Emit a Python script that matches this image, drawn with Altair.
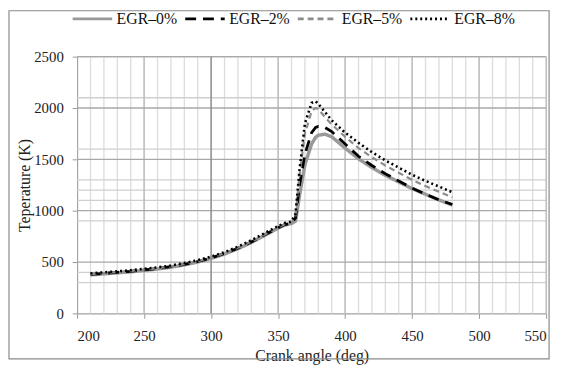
import altair as alt
import pandas as pd

# ---- data ----
series_names = ["EGR\u20130%", "EGR\u20132%", "EGR\u20135%", "EGR\u20138%"]

angle = [210, 220, 230, 240, 250, 260, 270, 280, 290, 300, 310, 320, 330, 340, 350,
         355, 360, 363, 366, 370, 375, 378, 380, 385, 390, 400, 410, 420, 430, 440,
         450, 460, 470, 480]

egr0 = [375, 385, 395, 405, 418, 432, 450, 472, 500, 535, 578, 630, 690, 760, 830,
        860, 875, 900, 1150, 1450, 1650, 1715, 1735, 1745, 1720, 1610, 1505, 1420,
        1345, 1280, 1215, 1160, 1105, 1055]
egr2 = [380, 390, 400, 410, 423, 437, 455, 477, 505, 540, 583, 635, 695, 765, 835,
        865, 880, 930, 1250, 1550, 1760, 1810, 1820, 1810, 1770, 1650, 1530, 1440,
        1360, 1290, 1220, 1160, 1105, 1060]
egr5 = [382, 392, 402, 412, 426, 440, 458, 480, 508, 543, 586, 638, 698, 768, 838,
        868, 885, 950, 1350, 1750, 1970, 2000, 1990, 1910, 1840, 1720, 1610, 1520,
        1440, 1370, 1300, 1240, 1185, 1130]
egr8 = [390, 400, 410, 420, 434, 448, 466, 490, 518, 553, 596, 650, 712, 782, 850,
        880, 895, 970, 1400, 1850, 2050, 2065, 2040, 1960, 1880, 1760, 1660, 1570,
        1490, 1420, 1350, 1290, 1235, 1180]

x_ticks = [200, 250, 300, 350, 400, 450, 500, 550]
y_ticks = [0, 500, 1000, 1500, 2000, 2500]
v_minor = list(range(210, 550, 10))
v_major = [250, 350, 400, 450, 500, 550]
v_strong = [300]
h_minor = [300, 400, 900, 1100, 1200, 1300, 1600, 2100]
h_major = [500, 1000, 1500, 2000, 2500]

colors = ["#999999", "#000000", "#8c8c8c", "#000000"]
dashes = [[1, 0], [11, 7], [6, 4], [2, 3]]
widths = [3.5, 2.8, 2.2, 2.6]

rows = []
for name, vals in zip(series_names, [egr0, egr2, egr5, egr8]):
    for a, v in zip(angle, vals):
        rows.append({"angle": a, "T": v, "Series": name})
df = pd.DataFrame(rows)

serif = "Liberation Serif"

xs = alt.Scale(domain=[200, 550], nice=False)
ys = alt.Scale(domain=[0, 2500], nice=False)

def vrules(vals, color, w):
    return alt.Chart(pd.DataFrame({"x": vals})).mark_rule(color=color, strokeWidth=w).encode(
        x=alt.X("x:Q", scale=xs))

def hrules(vals, color, w):
    return alt.Chart(pd.DataFrame({"y": vals})).mark_rule(color=color, strokeWidth=w).encode(
        y=alt.Y("y:Q", scale=ys))

grid = alt.layer(
    vrules(v_minor, "#dcdcdc", 1.3),
    hrules(h_minor, "#cfcfcf", 1.3),
    vrules(v_major, "#b8b8b8", 1.3),
    hrules(h_major, "#a8a8a8", 1.3),
    vrules(v_strong, "#909090", 1.5),
)

color_enc = alt.Color("Series:N", scale=alt.Scale(domain=series_names, range=colors),
                      legend=alt.Legend(title=None, orient="none", direction="horizontal",
                                        legendX=-6, legendY=-60,
                                        symbolType="stroke", symbolSize=1600,
                                        symbolStrokeWidth=2.8,
                                        labelFont=serif, labelFontSize=16,
                                        labelColor="#111", labelOffset=3,
                                        columnPadding=1))
dash_enc = alt.StrokeDash("Series:N", scale=alt.Scale(domain=series_names, range=dashes))

lines = []
for name, w in zip(series_names, widths):
    lines.append(
        alt.Chart(df).transform_filter(alt.datum.Series == name)
        .mark_line(strokeWidth=w)
        .encode(
            x=alt.X("angle:Q", scale=xs,
                    axis=alt.Axis(values=x_ticks, title="Crank angle (deg)", grid=False,
                                  format="d",
                                  labelFont=serif, labelFontSize=15, labelColor="#222",
                                  titleFont=serif, titleFontSize=16, titleFontWeight="normal",
                                  titleColor="#222", domainColor="#999", tickColor="#999",
                                  tickSize=5, labelPadding=10, titlePadding=5)),
            y=alt.Y("T:Q", scale=ys,
                    axis=alt.Axis(values=y_ticks, title="Teperature (K)", grid=False,
                                  format="d",
                                  labelFont=serif, labelFontSize=15, labelColor="#222",
                                  titleFont=serif, titleFontSize=16, titleFontWeight="normal",
                                  titleColor="#222", domainColor="#999", tickColor="#999",
                                  tickSize=5, labelPadding=9, titlePadding=1)),
            color=color_enc,
            strokeDash=dash_enc,
        )
    )

border = alt.Chart(pd.DataFrame({"a": [0]})).mark_rect(
    fill=None, stroke="#8a8a8a", strokeWidth=1.2, clip=False).encode(
    x=alt.value(-69), x2=alt.value(478), y=alt.value(-46.5), y2=alt.value(306))

chart = alt.layer(grid, *lines, border).properties(
    width=475, height=260,
    autosize=alt.AutoSizeParams(type="none"),
    padding={"left": 70, "top": 47, "right": 10, "bottom": 50},
).configure_view(stroke=None).configure(background="white")

chart.save("out.html", embed_options={"renderer": "svg", "actions": False})
